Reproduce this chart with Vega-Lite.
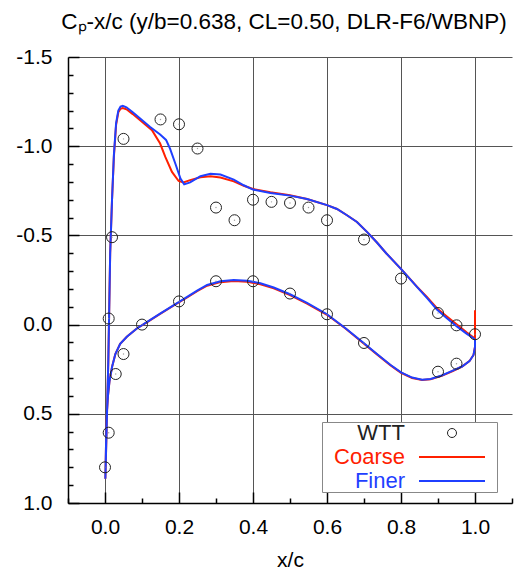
{
  "$schema": "https://vega.github.io/schema/vega-lite/v6.json",
  "width": 444,
  "height": 446,
  "autosize": {"type": "none"},
  "padding": {"left": 68, "top": 57, "right": 11, "bottom": 69},
  "background": "white",
  "config": {"view": {"stroke": null}, "font": "Liberation Sans"},
  "title": {"text": "Cₚ-x/c (y/b=0.638, CL=0.50, DLR-F6/WBNP)", "fontSize": 22.5, "font": "Liberation Sans", "fontWeight": "normal", "color": "black", "anchor": "middle", "frame": "group", "baseline": "alphabetic", "offset": -5, "dx": -6},
  "datasets": {
    "wtt": [
      {"x": 0.0, "cp": 0.80}, {"x": 0.01, "cp": 0.606}, {"x": 0.01, "cp": -0.034}, {"x": 0.019, "cp": -0.49},
      {"x": 0.029, "cp": 0.277}, {"x": 0.05, "cp": 0.165}, {"x": 0.1, "cp": 0.0}, {"x": 0.2, "cp": -0.13},
      {"x": 0.3, "cp": -0.243}, {"x": 0.4, "cp": -0.243}, {"x": 0.5, "cp": -0.174}, {"x": 0.6, "cp": -0.058},
      {"x": 0.7, "cp": 0.103}, {"x": 0.9, "cp": 0.264}, {"x": 0.95, "cp": 0.219}, {"x": 1.0, "cp": 0.054},
      {"x": 0.95, "cp": 0.004}, {"x": 0.9, "cp": -0.065}, {"x": 0.8, "cp": -0.258}, {"x": 0.7, "cp": -0.477},
      {"x": 0.6, "cp": -0.585}, {"x": 0.55, "cp": -0.656}, {"x": 0.5, "cp": -0.682}, {"x": 0.45, "cp": -0.688},
      {"x": 0.4, "cp": -0.70}, {"x": 0.35, "cp": -0.585}, {"x": 0.3, "cp": -0.656}, {"x": 0.25, "cp": -0.987},
      {"x": 0.2, "cp": -1.123}, {"x": 0.15, "cp": -1.15}, {"x": 0.05, "cp": -1.041}
    ],
    "coarse": [
      {"x": 1.0, "cp": 0.085}, {"x": 1.0, "cp": 0.125}, {"x": 0.996, "cp": 0.17}, {"x": 0.985, "cp": 0.205},
      {"x": 0.965, "cp": 0.235}, {"x": 0.94, "cp": 0.26}, {"x": 0.91, "cp": 0.287}, {"x": 0.88, "cp": 0.307},
      {"x": 0.857, "cp": 0.311}, {"x": 0.83, "cp": 0.299}, {"x": 0.80, "cp": 0.27}, {"x": 0.771, "cp": 0.227},
      {"x": 0.735, "cp": 0.167}, {"x": 0.70, "cp": 0.107}, {"x": 0.65, "cp": 0.022}, {"x": 0.60, "cp": -0.055},
      {"x": 0.546, "cp": -0.118}, {"x": 0.50, "cp": -0.165}, {"x": 0.456, "cp": -0.203}, {"x": 0.42, "cp": -0.226},
      {"x": 0.384, "cp": -0.240}, {"x": 0.348, "cp": -0.244}, {"x": 0.312, "cp": -0.238}, {"x": 0.276, "cp": -0.218},
      {"x": 0.249, "cp": -0.187}, {"x": 0.222, "cp": -0.152}, {"x": 0.185, "cp": -0.106}, {"x": 0.149, "cp": -0.06},
      {"x": 0.114, "cp": -0.014}, {"x": 0.086, "cp": 0.022}, {"x": 0.059, "cp": 0.068}, {"x": 0.041, "cp": 0.108},
      {"x": 0.028, "cp": 0.165}, {"x": 0.019, "cp": 0.238}, {"x": 0.012, "cp": 0.32}, {"x": 0.008, "cp": 0.40},
      {"x": 0.005, "cp": 0.50}, {"x": 0.003, "cp": 0.65}, {"x": 0.001, "cp": 0.864},
      {"x": 0.009, "cp": 0.2}, {"x": 0.014, "cp": -0.40}, {"x": 0.019, "cp": -0.70}, {"x": 0.024, "cp": -0.94},
      {"x": 0.030, "cp": -1.12}, {"x": 0.036, "cp": -1.19}, {"x": 0.042, "cp": -1.21}, {"x": 0.048, "cp": -1.214},
      {"x": 0.058, "cp": -1.207}, {"x": 0.075, "cp": -1.18}, {"x": 0.095, "cp": -1.146}, {"x": 0.127, "cp": -1.09},
      {"x": 0.149, "cp": -1.015}, {"x": 0.163, "cp": -0.94}, {"x": 0.181, "cp": -0.856}, {"x": 0.199, "cp": -0.805},
      {"x": 0.212, "cp": -0.797}, {"x": 0.23, "cp": -0.81}, {"x": 0.258, "cp": -0.826}, {"x": 0.285, "cp": -0.832},
      {"x": 0.312, "cp": -0.825}, {"x": 0.348, "cp": -0.803}, {"x": 0.375, "cp": -0.778}, {"x": 0.40, "cp": -0.760},
      {"x": 0.447, "cp": -0.742}, {"x": 0.50, "cp": -0.725}, {"x": 0.546, "cp": -0.704}, {"x": 0.60, "cp": -0.670},
      {"x": 0.627, "cp": -0.648}, {"x": 0.654, "cp": -0.613}, {"x": 0.681, "cp": -0.575}, {"x": 0.708, "cp": -0.52},
      {"x": 0.735, "cp": -0.46}, {"x": 0.76, "cp": -0.40}, {"x": 0.803, "cp": -0.305}, {"x": 0.843, "cp": -0.213},
      {"x": 0.87, "cp": -0.155}, {"x": 0.897, "cp": -0.092}, {"x": 0.924, "cp": -0.045}, {"x": 0.951, "cp": 0.0},
      {"x": 0.978, "cp": 0.045}, {"x": 1.0, "cp": 0.078}, {"x": 1.0, "cp": -0.08}
    ],
    "finer": [
      {"x": 1.0, "cp": 0.085}, {"x": 1.0, "cp": 0.125}, {"x": 0.996, "cp": 0.17}, {"x": 0.985, "cp": 0.205},
      {"x": 0.965, "cp": 0.235}, {"x": 0.94, "cp": 0.258}, {"x": 0.91, "cp": 0.285}, {"x": 0.88, "cp": 0.305},
      {"x": 0.857, "cp": 0.309}, {"x": 0.83, "cp": 0.297}, {"x": 0.80, "cp": 0.268}, {"x": 0.771, "cp": 0.225},
      {"x": 0.735, "cp": 0.165}, {"x": 0.70, "cp": 0.105}, {"x": 0.65, "cp": 0.02}, {"x": 0.60, "cp": -0.058},
      {"x": 0.546, "cp": -0.122}, {"x": 0.50, "cp": -0.170}, {"x": 0.456, "cp": -0.208}, {"x": 0.42, "cp": -0.232},
      {"x": 0.384, "cp": -0.246}, {"x": 0.348, "cp": -0.250}, {"x": 0.312, "cp": -0.243}, {"x": 0.276, "cp": -0.222},
      {"x": 0.249, "cp": -0.19}, {"x": 0.222, "cp": -0.155}, {"x": 0.185, "cp": -0.108}, {"x": 0.149, "cp": -0.062},
      {"x": 0.114, "cp": -0.015}, {"x": 0.086, "cp": 0.022}, {"x": 0.059, "cp": 0.068}, {"x": 0.041, "cp": 0.108},
      {"x": 0.028, "cp": 0.165}, {"x": 0.019, "cp": 0.238}, {"x": 0.012, "cp": 0.32}, {"x": 0.008, "cp": 0.40},
      {"x": 0.005, "cp": 0.50}, {"x": 0.003, "cp": 0.65}, {"x": 0.001, "cp": 0.864},
      {"x": 0.009, "cp": 0.2}, {"x": 0.014, "cp": -0.40}, {"x": 0.019, "cp": -0.70}, {"x": 0.024, "cp": -0.95},
      {"x": 0.030, "cp": -1.13}, {"x": 0.036, "cp": -1.20}, {"x": 0.042, "cp": -1.222}, {"x": 0.048, "cp": -1.226},
      {"x": 0.058, "cp": -1.218}, {"x": 0.075, "cp": -1.19}, {"x": 0.095, "cp": -1.155}, {"x": 0.122, "cp": -1.108},
      {"x": 0.149, "cp": -1.066}, {"x": 0.165, "cp": -1.035}, {"x": 0.176, "cp": -0.985}, {"x": 0.19, "cp": -0.903},
      {"x": 0.204, "cp": -0.819}, {"x": 0.214, "cp": -0.786}, {"x": 0.23, "cp": -0.797}, {"x": 0.258, "cp": -0.832},
      {"x": 0.285, "cp": -0.846}, {"x": 0.312, "cp": -0.841}, {"x": 0.348, "cp": -0.813}, {"x": 0.375, "cp": -0.781},
      {"x": 0.40, "cp": -0.757}, {"x": 0.447, "cp": -0.738}, {"x": 0.50, "cp": -0.723}, {"x": 0.546, "cp": -0.704},
      {"x": 0.60, "cp": -0.670}, {"x": 0.627, "cp": -0.648}, {"x": 0.654, "cp": -0.613}, {"x": 0.681, "cp": -0.575},
      {"x": 0.708, "cp": -0.52}, {"x": 0.735, "cp": -0.46}, {"x": 0.76, "cp": -0.40}, {"x": 0.803, "cp": -0.305},
      {"x": 0.843, "cp": -0.211}, {"x": 0.87, "cp": -0.15}, {"x": 0.897, "cp": -0.085}, {"x": 0.924, "cp": -0.035},
      {"x": 0.951, "cp": 0.010}, {"x": 0.978, "cp": 0.052}, {"x": 1.0, "cp": 0.082}
    ]
  },
  "resolve": {"axis": {"x": "independent", "y": "independent"}},
  "layer": [
    {
      "data": {"name": "coarse"},
      "mark": {"type": "line", "strokeWidth": 2},
      "encoding": {
        "x": {
          "field": "x", "type": "quantitative",
          "scale": {"domain": [-0.1, 1.1], "nice": false, "zero": false},
          "axis": {
            "orient": "bottom",
            "title": "x/c", "titleFontSize": 21, "titleFont": "Liberation Sans", "titleFontWeight": "normal", "titleColor": "black", "titlePadding": 12,
            "values": [0, 0.2, 0.4, 0.6, 0.8, 1],
            "format": ".1f",
            "labelFontSize": 21, "labelFont": "Liberation Sans", "labelColor": "black", "labelPadding": 24,
            "labelFlush": false, "labelOverlap": false, "labelBound": false,
            "tickSize": -11, "tickColor": "black", "tickWidth": 1.5,
            "domainColor": "black", "domainWidth": 1.5,
            "grid": true, "gridColor": "#555555", "gridWidth": 1
          }
        },
        "y": {
          "field": "cp", "type": "quantitative",
          "scale": {"domain": [-1.5, 1.0], "nice": false, "zero": false, "reverse": true},
          "axis": {
            "orient": "left",
            "title": null,
            "values": [-1.5, -1, -0.5, 0, 0.5, 1],
            "labelExpr": "(datum.value < 0 ? '-' : '') + format(abs(datum.value), '.1f')",
            "labelFontSize": 21, "labelFont": "Liberation Sans", "labelColor": "black", "labelPadding": 27,
            "labelFlush": false, "labelOverlap": false, "labelBound": false,
            "tickSize": -11, "tickColor": "black", "tickWidth": 1.5,
            "domainColor": "black", "domainWidth": 1.5,
            "grid": true, "gridColor": "#555555", "gridWidth": 1
          }
        },
        "color": {
          "datum": "Coarse", "type": "nominal",
          "scale": {"domain": ["WTT", "Coarse", "Finer"], "range": ["#222222", "#ff2000", "#1f3fff"]},
          "legend": {
            "orient": "none", "legendX": 254, "legendY": 365,
            "title": " ", "titleOrient": "right", "titlePadding": 8, "titleFontSize": 22,
            "labelFontSize": 22, "labelFont": "Liberation Sans", "labelAlign": "right",
            "labelOffset": -58, "symbolOffset": 119, "symbolSize": 400, "symbolStrokeWidth": 2,
            "padding": 0, "rowPadding": 2,
            "strokeColor": "#888888", "fillColor": "white", "cornerRadius": 0,
            "encode": {
              "symbols": {"update": {
                "shape": {"signal": "datum.value === 'WTT' ? 'circle' : 'stroke'"},
                "size": {"signal": "datum.value === 'WTT' ? 81 : 4356"},
                "strokeWidth": {"signal": "datum.value === 'WTT' ? 1 : 2"},
                "fill": {"value": "transparent"},
                "stroke": {"scale": "color", "field": "value"}
              }},
              "labels": {"update": {"fill": {"scale": "color", "field": "value"}}}
            }
          }
        },
        "order": {"value": null}
      }
    },
    {
      "data": {"name": "finer"},
      "mark": {"type": "line", "strokeWidth": 2},
      "encoding": {
        "x": {"field": "x", "type": "quantitative", "axis": {
          "orient": "bottom", "title": null, "values": [-0.1, 0.1, 0.3, 0.5, 0.7, 0.9, 1.1],
          "labels": false, "grid": false, "domain": false,
          "tickSize": -5, "tickColor": "black", "tickWidth": 1.5
        }},
        "y": {"field": "cp", "type": "quantitative", "axis": {
          "orient": "left", "title": null,
          "values": [-1.4, -1.3, -1.2, -1.1, -0.9, -0.8, -0.7, -0.6, -0.4, -0.3, -0.2, -0.1, 0.1, 0.2, 0.3, 0.4, 0.6, 0.7, 0.8, 0.9],
          "labels": false, "grid": false, "domain": false,
          "tickSize": -5, "tickColor": "black", "tickWidth": 1.5
        }},
        "color": {"datum": "Finer", "type": "nominal"},
        "order": {"value": null}
      }
    },
    {
      "data": {"name": "wtt"},
      "mark": {"type": "point", "shape": "circle", "size": 121, "strokeWidth": 1, "filled": false, "opacity": 1},
      "encoding": {
        "x": {"field": "x", "type": "quantitative", "axis": null},
        "y": {"field": "cp", "type": "quantitative", "axis": null},
        "color": {"datum": "WTT", "type": "nominal"}
      }
    },
    {
      "data": {"name": "wtt"},
      "mark": {"type": "circle", "size": 2, "color": "#888888", "opacity": 0.8},
      "encoding": {
        "x": {"field": "x", "type": "quantitative", "axis": null},
        "y": {"field": "cp", "type": "quantitative", "axis": null}
      }
    }
  ]
}
